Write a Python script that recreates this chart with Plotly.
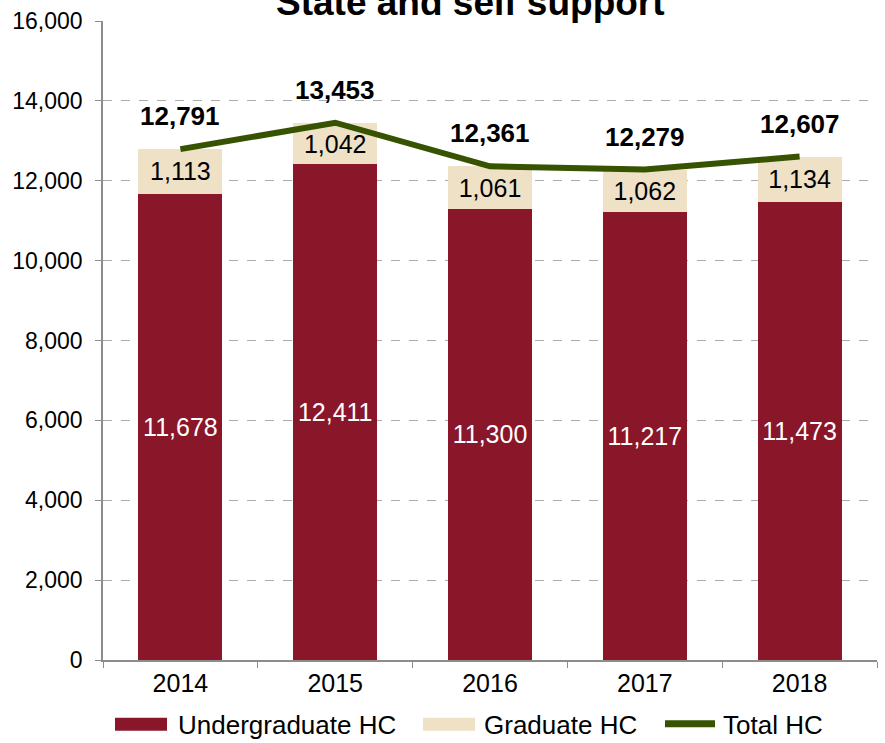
import plotly.graph_objects as go

years = ["2014", "2015", "2016", "2017", "2018"]
undergrad = [11678, 12411, 11300, 11217, 11473]
graduate = [1113, 1042, 1061, 1062, 1134]
total = [12791, 13453, 12361, 12279, 12607]

FONT = "Liberation Sans, Arial, sans-serif"
C_UG = "#8A1629"
C_GR = "#EEE1C6"
C_TOT = "#375200"

W, H = 885, 743
ML, MR, MT, MB = 103, 8, 19, 83
PW, PH = W - ML - MR, H - MT - MB


def px(x):
    """pixel column -> paper x"""
    return (x - ML) / PW


def py(y):
    """pixel row -> paper y"""
    return (H - MB - y) / PH


fig = go.Figure()
fig.add_trace(go.Bar(
    x=years, y=undergrad, name="Undergraduate HC",
    marker=dict(color=C_UG, line=dict(width=0)),
    texttemplate="%{y:,}", textposition="inside", insidetextanchor="middle",
    constraintext="none", textangle=0,
    textfont=dict(color="white", size=25, family=FONT),
))
fig.add_trace(go.Bar(
    x=years, y=graduate, name="Graduate HC",
    marker=dict(color=C_GR, line=dict(width=0)),
    texttemplate="%{y:,}", textposition="inside", insidetextanchor="middle",
    constraintext="none", textangle=0,
    textfont=dict(color="black", size=25, family=FONT),
))
fig.add_trace(go.Scatter(
    x=years, y=total, name="Total HC", mode="lines",
    line=dict(color=C_TOT, width=6),
))

# bold total labels above the line, placed by category index
for i, t in enumerate(total):
    fig.add_annotation(
        x=i, y=t, text=f"<b>{t:,}</b>", showarrow=False,
        yshift=33, font=dict(size=26, color="black", family=FONT),
    )

# title
fig.add_annotation(
    xref="paper", yref="paper", x=px(470), y=1, yanchor="bottom", yshift=-4,
    text="<b>State and self support</b>", showarrow=False,
    font=dict(size=37, color="black", family=FONT),
)

# legend row with wide swatches
legend_items = [
    ("Undergraduate HC", "rect", C_UG, 115, 167, 176),
    ("Graduate HC", "rect", C_GR, 423, 475, 482),
    ("Total HC", "line", C_TOT, 662, 718, 721),
]
for name, kind, color, x0, x1, tx in legend_items:
    if kind == "rect":
        fig.add_shape(type="rect", xref="paper", yref="paper",
                      x0=px(x0), x1=px(x1), y0=py(731), y1=py(718),
                      fillcolor=color, line=dict(width=0), layer="above")
    else:
        fig.add_shape(type="line", xref="paper", yref="paper",
                      x0=px(x0 + 3), x1=px(x1 - 3), y0=py(724), y1=py(724),
                      line=dict(color=color, width=7), layer="above")
    fig.add_annotation(
        xref="paper", yref="paper", x=px(tx), y=py(725),
        xanchor="left", yanchor="middle", text=name, showarrow=False,
        font=dict(size=26, color="black", family=FONT),
    )

fig.update_layout(
    width=W, height=H,
    margin=dict(l=ML, r=MR, t=MT, b=MB),
    barmode="stack", bargap=0.457,
    plot_bgcolor="white", paper_bgcolor="white",
    font=dict(family=FONT, size=20, color="black"),
    showlegend=False,
)
fig.update_xaxes(
    type="category", range=[-0.5, 4.5], autorange=False,
    showline=True, linecolor="#8C8C8C", linewidth=1.5,
    ticks="outside", tickson="boundaries", ticklen=6, tickcolor="#8C8C8C",
    tickfont=dict(size=25, family=FONT),
)
fig.update_yaxes(
    range=[0, 16000], dtick=2000, tickformat=",",
    showline=True, linecolor="#8C8C8C", linewidth=1.5,
    ticks="outside", ticklen=6, tickcolor="#8C8C8C", ticklabelstandoff=8,
    showgrid=True, gridcolor="#ABABAB", griddash="dash", gridwidth=1,
    tickfont=dict(size=23, family=FONT), zeroline=False,
)

fig.write_html("out.html")
